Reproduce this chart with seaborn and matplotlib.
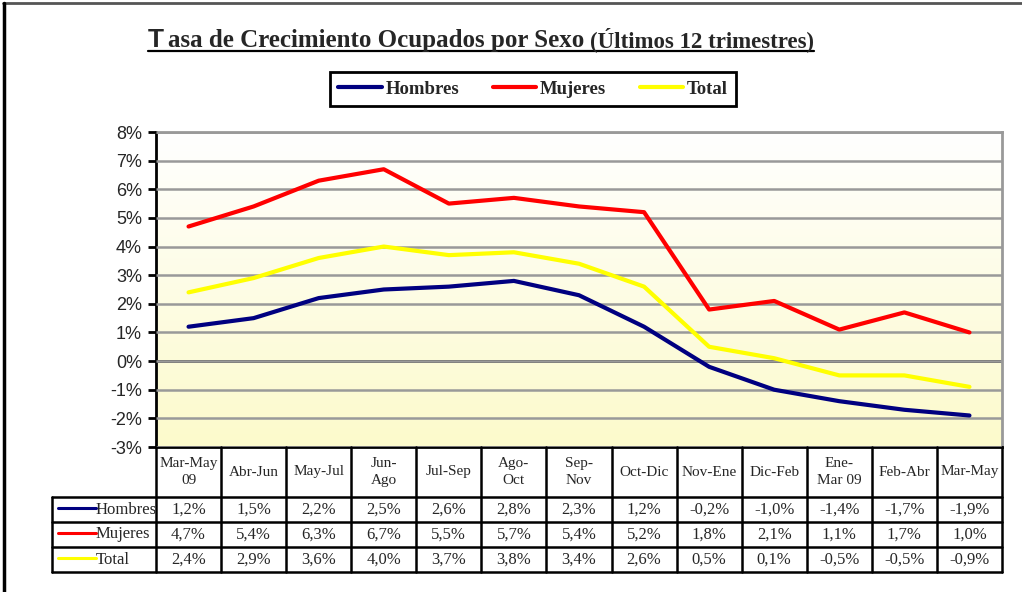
import numpy as np
import pandas as pd
import seaborn as sns
import matplotlib.pyplot as plt
from matplotlib.colors import LinearSegmentedColormap
from matplotlib.lines import Line2D
from matplotlib.transforms import blended_transform_factory

periodos = ['Mar-May\n09', 'Abr-Jun', 'May-Jul', 'Jun-\nAgo', 'Jul-Sep', 'Ago-\nOct', 'Sep-\nNov',
            'Oct-Dic', 'Nov-Ene', 'Dic-Feb', 'Ene-\nMar 09', 'Feb-Abr', 'Mar-May']
hombres = [1.2, 1.5, 2.2, 2.5, 2.6, 2.8, 2.3, 1.2, -0.2, -1.0, -1.4, -1.7, -1.9]
mujeres = [4.7, 5.4, 6.3, 6.7, 5.5, 5.7, 5.4, 5.2, 1.8, 2.1, 1.1, 1.7, 1.0]
total = [2.4, 2.9, 3.6, 4.0, 3.7, 3.8, 3.4, 2.6, 0.5, 0.1, -0.5, -0.5, -0.9]
series = ['Hombres', 'Mujeres', 'Total']
colores = {'Hombres': '#000080', 'Mujeres': '#ff0000', 'Total': '#ffff00'}
y_ticks = list(range(-3, 9))

W, H = 1022, 592
def fx(px):
    return px / W
def fy(py):
    return 1 - py / H

sns.set_style('white')
serif = 'Liberation Serif'
fig = plt.figure(figsize=(W / 100, H / 100), dpi=100)
ax = fig.add_axes([fx(156), fy(447), fx(1002) - fx(156), fy(132) - fy(447)])

df = pd.DataFrame({
    'periodo': periodos * 3,
    'serie': np.repeat(series, len(periodos)),
    'valor': hombres + mujeres + total,
})
sns.lineplot(data=df, x='periodo', y='valor', hue='serie', palette=colores,
             linewidth=3, ax=ax, legend=False, sort=False, zorder=5)

n = len(periodos)
ax.set_xlim(-0.5, n - 0.5)
ax.set_ylim(y_ticks[0], y_ticks[-1])

# fondo degradado blanco -> amarillo claro
bg = LinearSegmentedColormap.from_list('bg', ['#ffffff', '#fcfacb'])
ax.imshow(np.linspace(0, 1, 256).reshape(-1, 1), cmap=bg, aspect='auto',
          extent=(-0.5, n - 0.5, y_ticks[0], y_ticks[-1]), zorder=0)

ax.set_yticks(y_ticks)
ax.set_yticklabels([f'{v}%' for v in y_ticks], fontfamily='Liberation Sans', fontsize=13)
ax.yaxis.grid(True, color='#999999', linewidth=1.8, zorder=1)
ax.set_axisbelow(False)
ax.axhline(0, color='black', linewidth=1.8, zorder=2)
ax.tick_params(axis='y', direction='out', length=6, width=2, color='black', pad=4, left=True)
ax.tick_params(axis='x', length=0, labelbottom=False)
ax.set_xlabel('')
ax.set_ylabel('')
for s in ['left', 'bottom']:
    ax.spines[s].set_color('black')
    ax.spines[s].set_linewidth(2)
for s in ['top', 'right']:
    ax.spines[s].set_color('#999999')
    ax.spines[s].set_linewidth(2)

# tabla de datos
tr = blended_transform_factory(ax.transData, fig.transFigure)
unit = (1002 - 156) / n
x_lab = -0.5 - (156 - 52) / unit
y_head, y_rows = 447, [497, 522, 547, 572]
lw = 1.8
for i in range(n + 1):
    fig.add_artist(Line2D([i - 0.5, i - 0.5], [fy(y_head), fy(y_rows[-1])],
                          color='black', lw=lw, transform=tr))
fig.add_artist(Line2D([x_lab, x_lab], [fy(y_rows[0]), fy(y_rows[-1])], color='black', lw=lw, transform=tr))
for yr in y_rows:
    fig.add_artist(Line2D([x_lab, n - 0.5], [fy(yr), fy(yr)], color='black', lw=lw, transform=tr))

for i, p in enumerate(periodos):
    fig.text(i, fy((y_head + y_rows[0]) / 2), p, transform=tr, ha='center', va='center',
             fontfamily=serif, fontsize=11, linespacing=1.35)

for r, (nombre, vals) in enumerate(zip(series, [hombres, mujeres, total])):
    yc = fy((y_rows[r] + y_rows[r + 1]) / 2)
    for i, v in enumerate(vals):
        fig.text(i, yc, f'{v:.1f}%'.replace('.', ','), transform=tr, ha='center', va='center',
                 fontfamily=serif, fontsize=12)
    fig.add_artist(Line2D([fx(58), fx(96)], [yc + 0.002, yc + 0.002], color=colores[nombre], lw=2.2,
                          transform=fig.transFigure))
    fig.text(fx(96), yc, nombre, ha='left', va='center', fontfamily=serif, fontsize=12)

# leyenda
handles = [Line2D([], [], color=colores[s], lw=3) for s in series]
leg = fig.legend(handles, series, ncol=3, loc='center', bbox_to_anchor=(fx(533), fy(89)),
                 frameon=True, fancybox=False, edgecolor='black', framealpha=1,
                 prop=dict(family=serif, weight='bold', size=13.5),
                 handlelength=2.3, handletextpad=0.2, columnspacing=1.8, borderpad=0.45)
leg.get_frame().set_linewidth(2)

# titulo subrayado
renderer = fig.canvas.get_renderer()
t1 = fig.text(fx(148), fy(47), 'T', fontfamily='Liberation Sans', fontweight='bold', fontsize=19, va='baseline')
x1 = t1.get_window_extent(renderer).x1
t2 = fig.text((x1 + 4) / W, fy(47), 'asa de Crecimiento Ocupados por Sexo', fontfamily=serif,
              fontweight='bold', fontsize=18, va='baseline')
x2 = t2.get_window_extent(renderer).x1
t3 = fig.text((x2 + 6) / W, fy(47), '(Últimos 12 trimestres)', fontfamily=serif,
              fontweight='bold', fontsize=16.5, va='baseline')
x3 = t3.get_window_extent(renderer).x1
fig.add_artist(Line2D([fx(148), x3 / W], [fy(51), fy(51)], color='black', lw=1.6, transform=fig.transFigure))

# marco exterior
fig.add_artist(Line2D([fx(3), 1], [fy(3), fy(3)], color='#555555', lw=2, transform=fig.transFigure))
fig.add_artist(Line2D([fx(4), fx(4)], [fy(3), 0], color='black', lw=2.5, transform=fig.transFigure))

fig.savefig('out.png', dpi=100)
